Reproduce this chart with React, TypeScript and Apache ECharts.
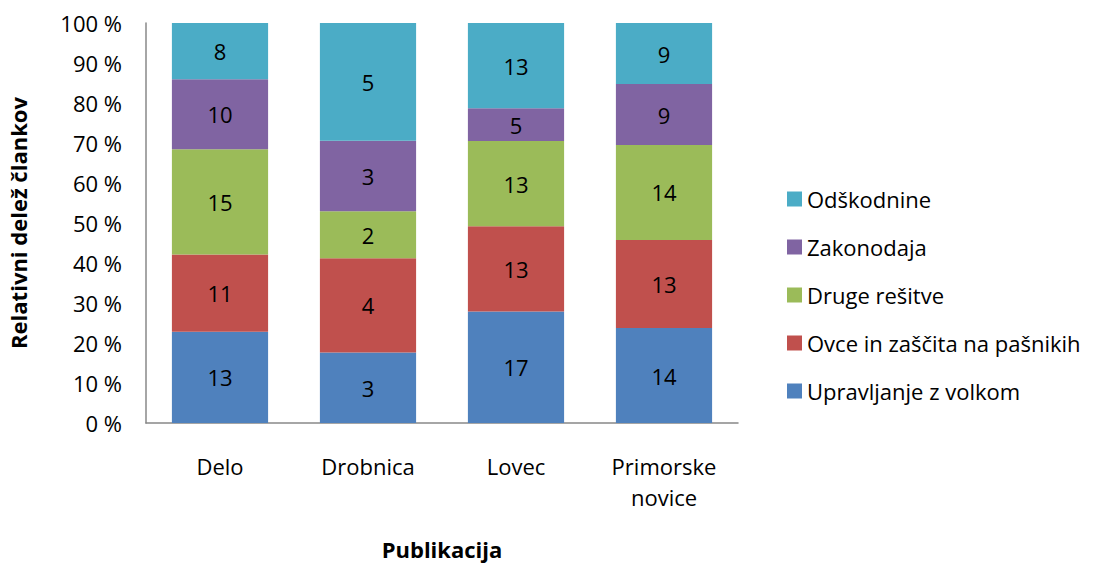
import React, { useEffect, useRef } from "react";
import * as echarts from "echarts";

const categories = ["Delo", "Drobnica", "Lovec", "Primorske\nnovice"];
const seriesNames = [
  "Upravljanje z volkom",
  "Ovce in zaščita na pašnikih",
  "Druge rešitve",
  "Zakonodaja",
  "Odškodnine",
];
const upravljanje = [13, 3, 17, 14];
const ovce = [11, 4, 13, 13];
const druge = [15, 2, 13, 14];
const zakonodaja = [10, 3, 5, 9];
const odskodnine = [8, 5, 13, 9];
const yTicks = [0, 10, 20, 30, 40, 50, 60, 70, 80, 90, 100];
const colors = ["#4F81BD", "#C0504D", "#9BBB59", "#8064A2", "#4BACC6"];

const FONT = "'Open Sans', sans-serif";
const FS = 22;

export default function App() {
  const ref = useRef<HTMLDivElement>(null);
  useEffect(() => {
    if (!ref.current) return;
    const chart = echarts.init(ref.current, null, { renderer: "svg" });
    const counts = [upravljanje, ovce, druge, zakonodaja, odskodnine];
    const totals = categories.map((_, i) => counts.reduce((s, arr) => s + arr[i], 0));
    const series = counts.map((arr, si) => ({
      name: seriesNames[si],
      type: "bar",
      stack: "total",
      barWidth: "65%",
      itemStyle: { color: colors[si] },
      data: arr.map((v, i) => ({ value: (v / totals[i]) * 100, count: v })),
      label: {
        show: true,
        position: "inside",
        color: "#000",
        fontSize: FS,
        fontFamily: FONT,
        formatter: (p: any) => String(p.data.count),
      },
    }));
    chart.setOption({
      animation: false,
      textStyle: { fontFamily: FONT },
      grid: { left: 146, right: 1095 - 738, top: 23, bottom: 565 - 423, containLabel: false },
      xAxis: {
        type: "category",
        data: categories,
        axisLine: { show: true, lineStyle: { color: "#888", width: 1.5 } },
        axisTick: { show: false },
        axisLabel: { color: "#000", fontSize: FS, fontFamily: FONT, margin: 27, lineHeight: 31 },
      },
      yAxis: {
        type: "value",
        min: 0,
        max: 100,
        interval: 10,
        axisLine: { show: true, lineStyle: { color: "#888", width: 1.5 } },
        axisTick: { show: false },
        splitLine: { show: false },
        axisLabel: {
          color: "#000",
          fontSize: FS,
          fontFamily: FONT,
          margin: 24,
          formatter: (v: number) => (yTicks.includes(v) ? v + " %" : ""),
        },
      },
      legend: {
        orient: "vertical",
        left: 782,
        top: 180,
        itemWidth: 15,
        itemHeight: 15,
        itemGap: 20,
        icon: "rect",
        textStyle: { color: "#000", fontSize: FS, fontFamily: FONT, lineHeight: 28, padding: [0, 0, 0, 0] },
        data: [...seriesNames].reverse(),
      },
      graphic: [
        {
          type: "text",
          x: 18,
          y: 223,
          rotation: Math.PI / 2,
          style: {
            text: "Relativni delež člankov",
            fontSize: FS,
            fontWeight: "bold",
            fontFamily: FONT,
            fill: "#000",
            align: "center",
            verticalAlign: "middle",
          },
        },
        {
          type: "text",
          x: 442,
          y: 549,
          style: {
            text: "Publikacija",
            fontSize: FS,
            fontWeight: "bold",
            fontFamily: FONT,
            fill: "#000",
            align: "center",
            verticalAlign: "middle",
          },
        },
      ],
      series,
    });
    return () => chart.dispose();
  }, []);
  return <div ref={ref} style={{ width: 1095, height: 565, position: "absolute", left: 0, top: 0 }} />;
}
